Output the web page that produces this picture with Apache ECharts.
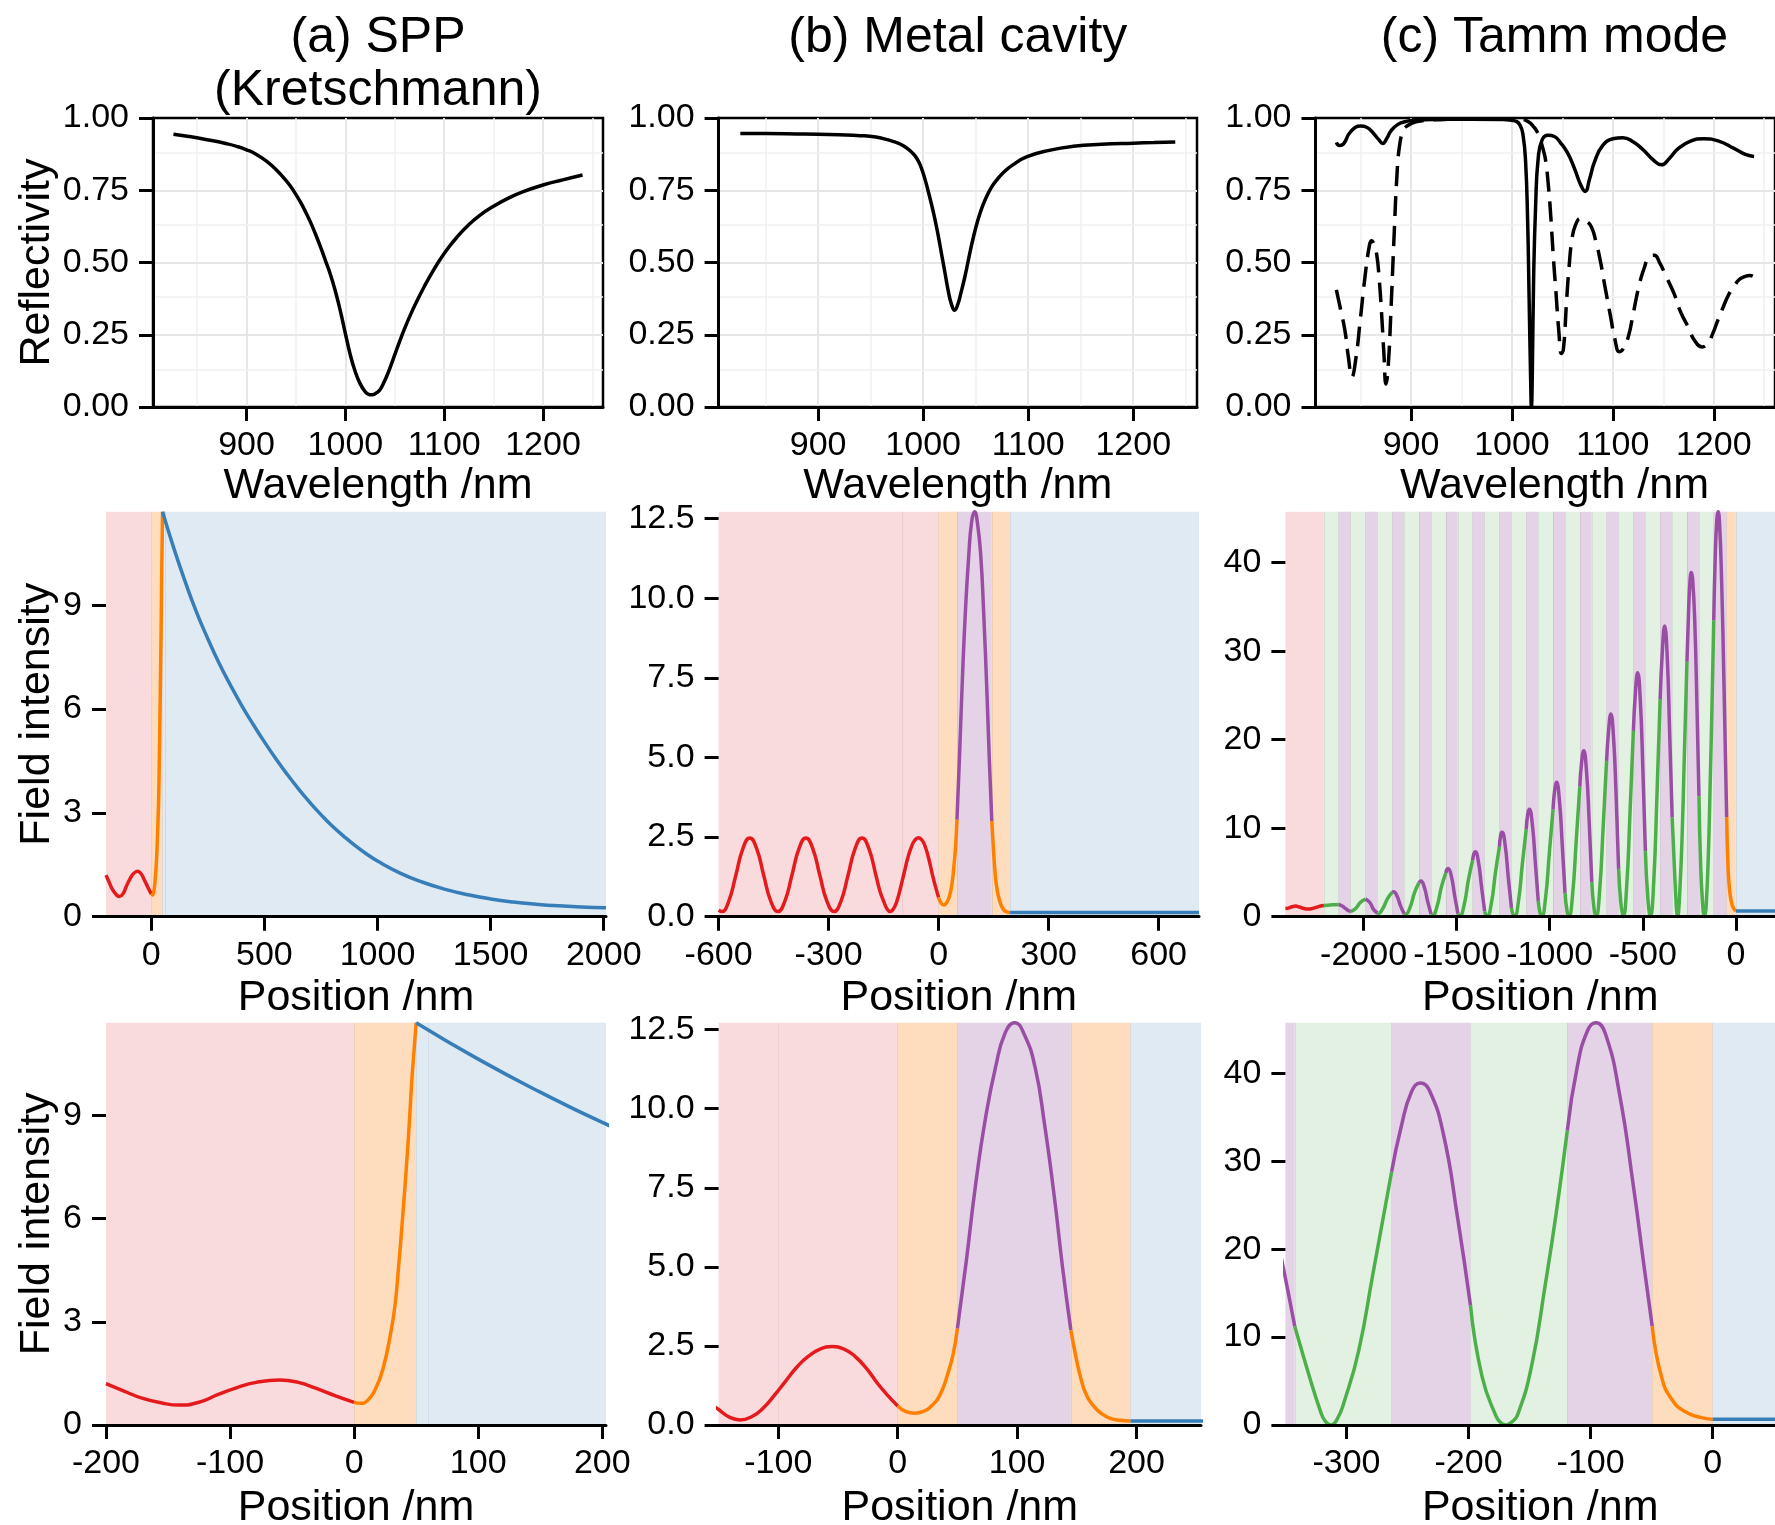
<!DOCTYPE html>
<html>
<head>
<meta charset="utf-8">
<script src="https://cdn.jsdelivr.net/npm/echarts@6/dist/echarts.min.js"></script>
<style>
  html, body { margin: 0; padding: 0; background: #ffffff; }
  #chart { width: 1775px; height: 1525px; }
</style>
</head>
<body>
<div id="chart"></div>
<script>
// ---------------- Reflectivity spectra [wavelength nm, R] ----------------
const sppReflectivity = [
  [826, 0.944], [840, 0.937], [860, 0.925], [880, 0.911], [890, 0.902], [900, 0.89],
  [910, 0.874], [920, 0.851], [930, 0.821], [940, 0.783], [945, 0.761], [950, 0.735],
  [955, 0.706], [960, 0.673], [965, 0.637], [970, 0.596], [975, 0.552], [980, 0.505],
  [985, 0.457], [990, 0.399], [995, 0.331], [1000, 0.254], [1005, 0.18], [1010, 0.122],
  [1015, 0.08], [1020, 0.053], [1023, 0.045], [1026, 0.042], [1029, 0.044], [1032, 0.05],
  [1035, 0.06], [1038, 0.078], [1042, 0.108], [1046, 0.143], [1050, 0.181], [1055, 0.228],
  [1060, 0.272], [1066, 0.32], [1072, 0.364], [1080, 0.418], [1088, 0.467], [1096, 0.511],
  [1104, 0.55], [1112, 0.584], [1124, 0.628], [1136, 0.663], [1150, 0.695], [1165, 0.723],
  [1180, 0.745], [1200, 0.768], [1220, 0.786], [1240, 0.803]
];

const cavityReflectivity = [
  [826, 0.946], [850, 0.946], [880, 0.945], [900, 0.944], [920, 0.942], [940, 0.939],
  [955, 0.934], [965, 0.926], [972, 0.918], [978, 0.91], [984, 0.897], [989, 0.882],
  [994, 0.86], [998, 0.83], [1002, 0.785], [1006, 0.73], [1010, 0.67], [1014, 0.60],
  [1018, 0.52], [1021, 0.46], [1024, 0.40], [1027, 0.355], [1030, 0.335], [1033, 0.355],
  [1036, 0.395], [1040, 0.455], [1044, 0.525], [1048, 0.59], [1052, 0.645], [1056, 0.69],
  [1060, 0.725], [1065, 0.76], [1070, 0.785], [1076, 0.81], [1085, 0.837], [1099, 0.866],
  [1120, 0.888], [1143, 0.902], [1170, 0.909], [1200, 0.913], [1220, 0.915], [1240, 0.917]
];

const tammReflectivitySolid = [
  [826, 0.916], [829, 0.905], [833, 0.91], [840, 0.952], [850, 0.972], [856, 0.968],
  [862, 0.95], [868, 0.925], [872, 0.912], [876, 0.93], [880, 0.955], [887, 0.978],
  [895, 0.988], [905, 0.993], [930, 0.995], [960, 0.996], [990, 0.995], [1003, 0.99],
  [1008, 0.975], [1011, 0.94], [1013.5, 0.85], [1015.5, 0.65], [1017, 0.38], [1018.5, 0.10],
  [1019.3, 0.0], [1020.2, 0.12], [1021.5, 0.45], [1023.5, 0.70], [1026, 0.86], [1030, 0.925],
  [1036, 0.94], [1042, 0.936], [1048, 0.915], [1055, 0.88], [1062, 0.825], [1068, 0.77],
  [1072.5, 0.746], [1077, 0.79], [1082, 0.85], [1090, 0.905], [1100, 0.928], [1110, 0.932],
  [1120, 0.918], [1130, 0.89], [1140, 0.855], [1148, 0.838], [1156, 0.86], [1165, 0.895],
  [1177, 0.92], [1190, 0.928], [1205, 0.92], [1220, 0.895], [1232, 0.873], [1240, 0.867]
];

const tammReflectivityDashed = [
  [826, 0.405], [830, 0.34], [834.4, 0.266], [838, 0.17], [841.4, 0.104], [845, 0.16],
  [850, 0.312], [854, 0.44], [858.8, 0.56], [861, 0.575], [863, 0.565], [865.8, 0.532],
  [868.5, 0.44], [871, 0.312], [873, 0.19], [875.2, 0.08], [877.5, 0.15], [879.8, 0.312],
  [883.3, 0.601], [886, 0.80], [888.5, 0.902], [892, 0.955], [895.5, 0.971], [906, 0.988],
  [930, 0.995], [960, 0.997], [990, 0.997], [1010, 0.995], [1017, 0.985], [1021.1, 0.971],
  [1024.5, 0.955], [1028, 0.925], [1031, 0.89], [1033.3, 0.855], [1036, 0.77], [1038.5, 0.659],
  [1041, 0.52], [1043.7, 0.393], [1046.5, 0.26], [1049, 0.185], [1051, 0.20], [1054.2, 0.37],
  [1056.5, 0.48], [1059.4, 0.578], [1063, 0.63], [1068.2, 0.653], [1073, 0.645], [1078.6, 0.624],
  [1083, 0.575], [1087.4, 0.509], [1092, 0.42], [1097.8, 0.312], [1102, 0.235], [1106.5, 0.191],
  [1110, 0.20], [1115.3, 0.243], [1120, 0.32], [1125.7, 0.416], [1131, 0.48], [1136.2, 0.52],
  [1141, 0.525], [1146.7, 0.497], [1153, 0.45], [1160.6, 0.393], [1167, 0.33], [1174.6, 0.277],
  [1181, 0.23], [1188.5, 0.208], [1194, 0.22], [1199, 0.254], [1204, 0.30], [1209.5, 0.347],
  [1215, 0.39], [1219.9, 0.416], [1225, 0.44], [1230.4, 0.451], [1236, 0.455], [1240, 0.45]
];

// ---------------- Layer stacks (interface positions in nm) ----------------
const sppEdges = [0, 50, 60];
const sppLayers = ['incidence', 'metal', 'exit', 'exit'];

const cavityEdges = [-100, 0, 50, 145, 195];
const cavityLayers = ['incidence', 'incidence', 'metal', 'high', 'metal', 'exit'];

const tammEdges = [
  -2213, -2133.7, -2069.1, -1989.8, -1925.2, -1845.9, -1781.3, -1702, -1637.4, -1558.1,
  -1493.5, -1414.2, -1349.6, -1270.3, -1205.7, -1126.4, -1061.8, -982.5, -917.9, -838.6,
  -774, -694.7, -630.1, -550.8, -486.2, -406.9, -342.3, -263, -198.4, -119.1, -49.6, 0
];
const tammLayers = [
  'incidence',
  'low', 'high', 'low', 'high', 'low', 'high', 'low', 'high', 'low', 'high',
  'low', 'high', 'low', 'high', 'low', 'high', 'low', 'high', 'low', 'high',
  'low', 'high', 'low', 'high', 'low', 'high', 'low', 'high', 'low', 'high',
  'metal', 'exit'
];

// ---------------- Field intensity profiles [position nm, |E|^2] ----------------
const sppField = [
  [-200, 1.2], [-185, 0.98], [-171, 0.78], [-155, 0.64], [-141, 0.58], [-125, 0.66],
  [-110, 0.88], [-95, 1.08], [-79, 1.24], [-60, 1.31], [-45, 1.24], [-31, 1.07],
  [-15, 0.85], [0, 0.66],
  [5, 0.63], [11, 0.72], [16.8, 1.02], [23, 1.6], [29.5, 2.68], [33, 3.5], [35.9, 4.63],
  [39, 6.0], [42.2, 7.55], [44.5, 8.8], [46.4, 9.98], [48.3, 10.9], [50, 11.7],
  [100, 10.64], [150, 9.68], [200, 8.8], [250, 8.03], [300, 7.32], [350, 6.69], [400, 6.1],
  [450, 5.56], [500, 5.05], [550, 4.57], [600, 4.12], [650, 3.7], [700, 3.31], [750, 2.95],
  [800, 2.62], [850, 2.33], [900, 2.06], [950, 1.82], [1000, 1.61], [1100, 1.26],
  [1200, 0.995], [1300, 0.79], [1400, 0.634], [1500, 0.514], [1600, 0.425], [1700, 0.361],
  [1800, 0.313], [1900, 0.281], [2010, 0.257]
];

const cavityField = [
  [-600, 0.2], [-591, 0.16], [-572, 0.5], [-553, 1.3], [-534, 2.13], [-515, 2.47],
  [-496, 2.13], [-477, 1.3], [-458, 0.5], [-438, 0.16], [-419, 0.5], [-400, 1.3],
  [-381, 2.13], [-362, 2.47], [-343, 2.13], [-324, 1.3], [-305, 0.5], [-285, 0.16],
  [-266, 0.5], [-247, 1.3], [-228, 2.13], [-209, 2.47], [-190, 2.13], [-171, 1.3],
  [-160, 0.8], [-150, 0.49], [-141, 0.25], [-132, 0.16], [-122, 0.27], [-113, 0.52],
  [-103, 0.95], [-94, 1.38], [-84, 1.85], [-75, 2.17], [-65, 2.4], [-55, 2.48],
  [-45, 2.4], [-36, 2.18], [-26, 1.78], [-17, 1.32], [-8, 0.92], [0, 0.6],
  [7, 0.42], [14, 0.37], [21, 0.42], [29, 0.63], [36, 1.0], [42, 1.63], [46.5, 2.25], [50, 3.05],
  [57.5, 5.2], [65, 7.53], [73.5, 9.7], [82, 11.32], [90, 12.4], [98, 12.72], [106, 12.35],
  [115, 11.32], [123, 9.5], [131.5, 7.11], [138, 5.0], [145, 3.0],
  [149, 2.2], [153, 1.53], [158, 0.95], [164.5, 0.58], [171, 0.35], [178, 0.21], [186, 0.15],
  [195, 0.13], [450, 0.13], [710, 0.13]
];

const tammField = [
  // incidence medium
  [-2420, 0.92], [-2400, 1.0], [-2385, 1.12], [-2365, 1.2], [-2345, 1.1], [-2325, 0.95],
  [-2300, 0.86], [-2280, 0.9], [-2260, 1.02], [-2235, 1.18], [-2213, 1.26],
  // Bragg mirror
  [-2190, 1.3], [-2165, 1.34], [-2133.7, 1.38],
  [-2115, 1.22], [-2100, 0.98], [-2085, 0.74], [-2069.1, 0.58],
  [-2042.7, 0.93], [-2016.2, 1.63], [-1989.8, 1.98],
  [-1986.8, 2.0], [-1966.3, 1.6], [-1945.8, 0.8], [-1925.2, 0.42],
  [-1922.2, 0.36], [-1896.8, 0.92], [-1871.4, 2.05], [-1845.9, 2.76],
  [-1838.9, 2.82], [-1819.7, 2.3], [-1800.5, 1.16], [-1781.3, 0.32],
  [-1775.3, 0.24], [-1750.9, 1.02], [-1726.4, 2.72], [-1702, 3.85],
  [-1692, 4.03], [-1673.8, 3.33], [-1655.6, 1.7], [-1637.4, 0.3],
  [-1629.4, 0.15], [-1605.6, 1.15], [-1581.9, 3.37], [-1558.1, 4.95],
  [-1552.1, 5.35], [-1546.1, 5.46], [-1528.6, 4.58], [-1511, 2.4], [-1493.5, 0.35],
  [-1488, 0.18], [-1482.5, 0.1], [-1459.7, 1.35], [-1437, 4.16], [-1414.2, 6.4],
  [-1407.2, 7.13], [-1400.2, 7.34], [-1383.3, 6.21], [-1366.5, 3.4], [-1349.6, 0.6],
  [-1342.6, 0.2], [-1335.6, 0.06], [-1313.8, 1.5], [-1292.1, 4.92], [-1270.3, 7.9],
  [-1263.3, 9.25], [-1256.3, 9.53], [-1239.4, 8.06], [-1222.6, 4.4], [-1205.7, 1.0],
  [-1197.2, 0.27], [-1188.7, 0.04], [-1167.9, 1.78], [-1147.2, 5.96], [-1126.4, 9.9],
  [-1117.9, 11.62], [-1109.4, 12.13], [-1093.5, 10.43], [-1077.7, 6.2], [-1061.8, 1.8],
  [-1052.3, 0.47], [-1042.8, 0.02], [-1022.7, 2.1], [-1002.6, 7.1], [-982.5, 12.1],
  [-973, 14.4], [-963.5, 15.18], [-948.3, 13.2], [-933.1, 8.2], [-917.9, 2.7],
  [-907.4, 0.7], [-896.9, 0.01], [-877.5, 2.47], [-858, 8.5], [-838.6, 14.7],
  [-828.1, 17.6], [-817.6, 18.76], [-803.1, 16.6], [-788.5, 10.9], [-774, 3.9],
  [-762.5, 1.0], [-751, 0], [-732.2, 2.87], [-713.5, 9.96], [-694.7, 17.6],
  [-683.2, 21.2], [-671.7, 22.9], [-657.8, 20.4], [-644, 14.0], [-630.1, 5.4],
  [-617.6, 1.45], [-605.1, 0], [-587, 3.35], [-568.9, 11.7], [-550.8, 21],
  [-539.3, 25.5], [-527.8, 27.57], [-513.9, 24.6], [-500, 16.8], [-486.2, 7.4],
  [-472.7, 2.0], [-459.2, 0], [-441.8, 3.8], [-424.3, 13.6], [-406.9, 24.6],
  [-394.9, 30.1], [-382.9, 32.84], [-369.4, 29.6], [-355.8, 20.7], [-342.3, 11.2],
  [-330.3, 5.5], [-321.6, 1.7], [-317.5, 0.45], [-313, 0], [-308, 0.55], [-301.4, 2.84],
  [-289.9, 8.5], [-278.3, 17.2], [-263, 28.8],
  [-255.2, 33.9], [-246.7, 37.9], [-239.4, 38.9], [-232.2, 38.1], [-220.6, 33.1],
  [-209.1, 23.7], [-198.4, 13.6],
  [-188.9, 5.5], [-177.3, 0.95], [-173.5, 0.25], [-169.3, 0], [-165, 0.3], [-160, 1.1],
  [-148.5, 6.6], [-137, 16.1], [-128.3, 24], [-119.1, 33.5],
  [-111, 40.7], [-102.4, 44.9], [-95.7, 45.76], [-87.9, 44.5], [-76.4, 37.7], [-64.9, 27.1],
  [-56.2, 18], [-49.6, 11.25],
  // metal film
  [-42, 5.5], [-33.2, 2.84], [-21.7, 1.44], [-10.2, 0.87], [0, 0.64],
  // exit medium
  [100, 0.64], [210, 0.64]
];

// ---------------- Axis ticks ----------------
const wavelengthTicks = [900, 1000, 1100, 1200];
const reflectivityTicks = [0, 0.25, 0.5, 0.75, 1];
const gridWavelengthMajor = [900, 1000, 1100, 1200];
const gridWavelengthMinor = [850, 950, 1050, 1150, 1250];
const gridReflectivityMajor = [0.25, 0.5, 0.75];
const gridReflectivityMinor = [0.125, 0.375, 0.625, 0.875];

const sppPositionTicks = [0, 500, 1000, 1500, 2000];
const sppZoomTicks = [-200, -100, 0, 100, 200];
const sppIntensityTicks = [0, 3, 6, 9];
const cavityPositionTicks = [-600, -300, 0, 300, 600];
const cavityZoomTicks = [-100, 0, 100, 200];
const cavityIntensityTicks = [0, 2.5, 5, 7.5, 10, 12.5];
const tammPositionTicks = [-2000, -1500, -1000, -500, 0];
const tammZoomTicks = [-300, -200, -100, 0];
const tammIntensityTicks = [0, 10, 20, 30, 40];

// ---------------- Styling ----------------
const FONT = '"Liberation Sans", Arial, Helvetica, sans-serif';
const LINE_W = 3.5;
const MATERIAL = {
  incidence: { line: '#E41A1C', fill: '#F9DBDD' },
  metal:     { line: '#FF7F00', fill: '#FEDDBE' },
  exit:      { line: '#377EB8', fill: '#DFEAF3' },
  high:      { line: '#984EA3', fill: '#E4D2E6' },
  low:       { line: '#4DAF4A', fill: '#E3F1E2' }
};

const maxOf = arr => Math.max(...arr.map(p => p[1]));
const structures = {
  spp:    { field: sppField,    edges: sppEdges,    layers: sppLayers },
  cavity: { field: cavityField, edges: cavityEdges, layers: cavityLayers },
  tamm:   { field: tammField,   edges: tammEdges,   layers: tammLayers }
};

// Panel layout: [left, top, width, height]
const panels = [
  { rect: [153, 118, 450, 289],     x: [805.3, 1260.7], xt: wavelengthTicks, ymax: 1, yt: reflectivityTicks, yd: 2, box: true,
    curves: [{ data: sppReflectivity }] },
  { rect: [718.6, 118, 478.4, 289], x: [805.3, 1260.7], xt: wavelengthTicks, ymax: 1, yt: reflectivityTicks, yd: 2, box: true,
    curves: [{ data: cavityReflectivity }] },
  { rect: [1315.5, 118, 478, 289],  x: [805.3, 1260.7], xt: wavelengthTicks, ymax: 1, yt: reflectivityTicks, yd: 2, box: true,
    curves: [{ data: tammReflectivityDashed, dashed: true }, { data: tammReflectivitySolid }] },

  { rect: [106, 511.7, 500, 405],     x: [-200, 2010], xt: sppPositionTicks,    ymax: maxOf(sppField),    yt: sppIntensityTicks,    yd: 0, s: 'spp' },
  { rect: [718.6, 511.7, 480.4, 405], x: [-600, 710],  xt: cavityPositionTicks, ymax: maxOf(cavityField), yt: cavityIntensityTicks, yd: 1, s: 'cavity' },
  { rect: [1285.4, 511.7, 509.6, 405], x: [-2420, 210], xt: tammPositionTicks,  ymax: maxOf(tammField),   yt: tammIntensityTicks,   yd: 0, s: 'tamm' },

  { rect: [106, 1022.7, 500, 402.3],     x: [-200, 203], xt: sppZoomTicks,    ymax: maxOf(sppField),    yt: sppIntensityTicks,    yd: 0, s: 'spp' },
  { rect: [718.6, 1022.7, 482.4, 402.3], x: [-150, 254], xt: cavityZoomTicks, ymax: maxOf(cavityField), yt: cavityIntensityTicks, yd: 1, s: 'cavity' },
  { rect: [1285.4, 1022.7, 509.6, 402.3], x: [-350, 51], xt: tammZoomTicks,   ymax: maxOf(tammField),   yt: tammIntensityTicks,   yd: 0, s: 'tamm' }
];

const grids = [], xAxes = [], yAxes = [], series = [], graphics = [];

// consecutive layers of the same material share one coloured curve segment
function runsOf(st) {
  const bounds = [-Infinity, ...st.edges, Infinity];
  const runs = [];
  st.layers.forEach((m, k) => {
    const lo = bounds[k], hi = bounds[k + 1];
    const last = runs[runs.length - 1];
    if (last && last.mat === m) last.hi = hi; else runs.push({ lo, hi, mat: m });
  });
  return runs;
}

panels.forEach((p, i) => {
  grids.push({
    left: p.rect[0], top: p.rect[1], width: p.rect[2], height: p.rect[3],
    containLabel: false, show: !!p.box, borderColor: '#000', borderWidth: 2.5,
    backgroundColor: 'transparent'
  });
  xAxes.push({
    gridIndex: i, type: 'value', min: p.x[0], max: p.x[1], z: 20,
    axisLine: { show: true, onZero: false, lineStyle: { color: '#000', width: 3 } },
    axisTick: { show: true, length: 14, customValues: p.xt, lineStyle: { color: '#000', width: 3 } },
    axisLabel: { show: true, customValues: p.xt, margin: 22, color: '#000', fontSize: 34,
                 fontFamily: FONT, formatter: v => String(v) },
    splitLine: { show: false }
  });
  yAxes.push({
    gridIndex: i, type: 'value', min: 0, max: p.ymax, z: 20,
    axisLine: { show: !!p.box, onZero: false, lineStyle: { color: '#000', width: 3 } },
    axisTick: { show: true, length: 14, customValues: p.yt, lineStyle: { color: '#000', width: 3 } },
    axisLabel: { show: true, customValues: p.yt, margin: 24, color: '#000', fontSize: 34,
                 fontFamily: FONT, formatter: v => Number(v).toFixed(p.yd) },
    splitLine: { show: false }
  });

  if (p.box) {
    // light background grid of the spectra panels
    const gl = [];
    gridWavelengthMajor.forEach(v => gl.push({ xAxis: v, lineStyle: { color: '#E6E6E6', width: 2 } }));
    gridWavelengthMinor.forEach(v => gl.push({ xAxis: v, lineStyle: { color: '#F0F0F0', width: 1.5 } }));
    gridReflectivityMajor.forEach(v => gl.push({ yAxis: v, lineStyle: { color: '#E6E6E6', width: 2 } }));
    gridReflectivityMinor.forEach(v => gl.push({ yAxis: v, lineStyle: { color: '#F0F0F0', width: 1.5 } }));
    series.push({
      type: 'line', xAxisIndex: i, yAxisIndex: i, data: [], silent: true, z: 1, animation: false,
      markLine: { silent: true, z: 1, symbol: 'none', animation: false, label: { show: false },
                  lineStyle: { type: 'solid' }, data: gl }
    });
    p.curves.forEach(c => {
      series.push({
        type: 'line', xAxisIndex: i, yAxisIndex: i, data: c.data, showSymbol: false, symbol: 'none',
        smooth: 0.5, z: 10, silent: true, animation: false,
        lineStyle: { color: '#000', width: LINE_W, type: c.dashed ? [20, 10] : 'solid' }
      });
    });
  } else {
    const st = structures[p.s];
    const bounds = [-Infinity, ...st.edges, Infinity];
    const areas = [];
    st.layers.forEach((m, k) => {
      const lo = Math.max(bounds[k], p.x[0]), hi = Math.min(bounds[k + 1], p.x[1]);
      if (hi > lo) areas.push([{ xAxis: lo, itemStyle: { color: MATERIAL[m].fill } }, { xAxis: hi }]);
    });
    const edgeLines = st.edges.filter(e => e > p.x[0] && e < p.x[1]).map(e => ({ xAxis: e }));
    series.push({
      type: 'line', xAxisIndex: i, yAxisIndex: i, data: [], silent: true, z: 1, animation: false,
      markArea: { silent: true, z: 1, animation: false, label: { show: false }, data: areas },
      markLine: { silent: true, z: 2, symbol: 'none', animation: false, label: { show: false },
                  lineStyle: { color: 'rgba(0,0,0,0.07)', width: 1, type: 'solid' }, data: edgeLines }
    });
    runsOf(st).forEach(r => {
      const pts = st.field.filter(pt => pt[0] >= r.lo && pt[0] <= r.hi);
      if (pts.length < 2) return;
      series.push({
        type: 'line', xAxisIndex: i, yAxisIndex: i, data: pts, showSymbol: false, symbol: 'none',
        smooth: 0.5, z: 10, silent: true, animation: false,
        lineStyle: { color: MATERIAL[r.mat].line, width: LINE_W }
      });
    });
  }
});

// ---------------- Titles and axis names ----------------
function label(text, x, y, size, rot) {
  graphics.push({
    type: 'text', x, y, rotation: rot || 0, silent: true, z: 50,
    style: { text, fill: '#000', fontSize: size, fontFamily: FONT, align: 'center', verticalAlign: 'middle' }
  });
}
const cx = p => p.rect[0] + p.rect[2] / 2;
const cy = p => p.rect[1] + p.rect[3] / 2;

label('(a) SPP', cx(panels[0]), 38, 50);
label('(Kretschmann)', cx(panels[0]), 91, 50);
label('(b) Metal cavity', cx(panels[1]), 38, 50);
label('(c) Tamm mode', cx(panels[2]), 38, 50);

[0, 1, 2].forEach(i => label('Wavelength /nm', cx(panels[i]), 486, 43));
[3, 4, 5].forEach(i => label('Position /nm', cx(panels[i]), 998, 43));
[6, 7, 8].forEach(i => label('Position /nm', cx(panels[i]), 1508, 43));

label('Reflectivity', 37, cy(panels[0]), 43, Math.PI / 2);
label('Field intensity', 37, cy(panels[3]), 43, Math.PI / 2);
label('Field intensity', 37, cy(panels[6]), 43, Math.PI / 2);

const chart = echarts.init(document.getElementById('chart'), null, { renderer: 'canvas', width: 1775, height: 1525 });
chart.setOption({
  animation: false,
  backgroundColor: '#ffffff',
  textStyle: { fontFamily: FONT },
  grid: grids,
  xAxis: xAxes,
  yAxis: yAxes,
  series: series,
  graphic: graphics
});
</script>
</body>
</html>
